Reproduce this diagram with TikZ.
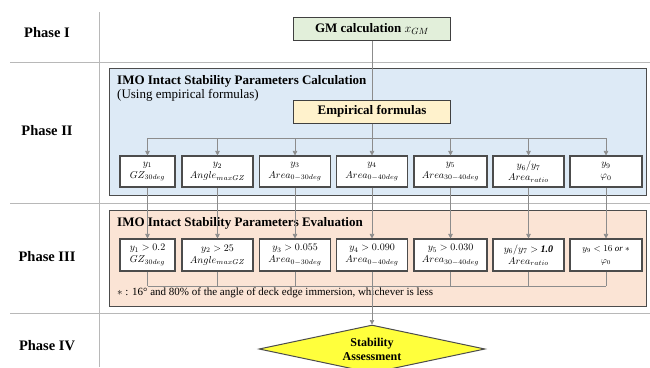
\documentclass[tikz,border=0pt]{standalone}
\usepackage{fontspec}
\setmainfont{Liberation Serif}
\usepackage{amsmath}
\usepackage{xcolor}
\usetikzlibrary{shapes.geometric,arrows.meta}

\definecolor{gmgreen}{HTML}{E2EFDA}
\definecolor{calcblue}{HTML}{DDEAF6}
\definecolor{empyellow}{HTML}{FFF2CC}
\definecolor{evalrose}{HTML}{FBE4D5}
\definecolor{assessyellow}{HTML}{FFFF3C}

\begin{document}
\begin{tikzpicture}[x=1pt,y=-1pt,
  phase/.style={font=\fontsize{14.5}{16}\selectfont\bfseries},
  phaseline/.style={draw=black!28,line width=0.8pt},
  panel/.style={draw=black!70,line width=1.2pt,anchor=north west,inner sep=0pt},
  paneltitle/.style={anchor=north west,inner sep=0pt,font=\fontsize{13}{15}\selectfont\bfseries},
  param/.style={draw=black!70,line width=1.1pt,fill=white,minimum width=71pt,minimum height=31pt,inner sep=1pt,align=center,font=\fontsize{10}{12}\selectfont},
  link/.style={draw=black!45,line width=0.6pt},
  >={Triangle[length=4.5pt,width=4.5pt]}
]
\useasboundingbox (0,0) rectangle (650,367);

% phase grid
\draw[phaseline] (99,12) -- (99,367);
\draw[phaseline] (10,62) -- (650,62);
\draw[phaseline] (10,203) -- (650,203);
\draw[phaseline] (10,313) -- (650,313);

\node[phase] (ph1) at (47,33) {Phase I};
\node[phase] (ph2) at (47,131) {Phase II};
\node[phase] (ph3) at (47,257) {Phase III};
\node[phase] (ph4) at (47,346) {Phase IV};

% Phase I
\node[draw=black!75,line width=1pt,fill=gmgreen,minimum width=157pt,minimum height=23pt,font=\fontsize{13}{15}\selectfont\bfseries] (gm) at (372,28.5) {GM calculation $x_{GM}$};

% Phase II
\node[panel,fill=calcblue,minimum width=537pt,minimum height=127pt] (calc) at (109,68) {};
\node[paneltitle] (calctitle) at (117,75) {IMO Intact Stability Parameters Calculation};
\node[paneltitle,font=\fontsize{13}{15}\selectfont] (using) at (117,89) {(Using empirical formulas)};
\node[draw=black!75,line width=1pt,fill=empyellow,minimum width=157pt,minimum height=23pt,font=\fontsize{13}{15}\selectfont\bfseries] (emp) at (372,111.5) {Empirical formulas};

\node[param,minimum width=55pt] (a1) at (147.5,171.5) {$y_1$\\$GZ_{30deg}$};
\node[param] (a2) at (217.5,171.5) {$y_2$\\$Angle_{maxGZ}$};
\node[param] (a3) at (295,171.5) {$y_3$\\$Area_{0-30deg}$};
\node[param] (a4) at (372,171.5) {$y_4$\\$Area_{0-40deg}$};
\node[param,minimum width=73pt] (a5) at (450.5,171.5) {$y_5$\\$Area_{30-40deg}$};
\node[param] (a6) at (528.5,171.5) {$y_6/y_7$\\$Area_{ratio}$};
\node[param,minimum width=72pt] (a9) at (606,171.5) {$y_9$\\$\varphi_0$};

% Phase III
\node[panel,fill=evalrose,minimum width=537pt,minimum height=96pt] (eval) at (109,210) {};
\node[paneltitle] (evaltitle) at (117,217) {IMO Intact Stability Parameters Evaluation};

\node[param,minimum width=55pt,minimum height=32pt] (b1) at (147.5,255) {$y_1 > 0.2$\\$GZ_{30deg}$};
\node[param,minimum height=32pt] (b2) at (217.5,255) {$y_2 > 25$\\$Angle_{maxGZ}$};
\node[param,minimum height=32pt] (b3) at (295,255) {$y_3 > 0.055$\\$Area_{0-30deg}$};
\node[param,minimum height=32pt] (b4) at (372,255) {$y_4 > 0.090$\\$Area_{0-40deg}$};
\node[param,minimum width=73pt,minimum height=32pt] (b5) at (450.5,255) {$y_5 > 0.030$\\$Area_{30-40deg}$};
\node[param,minimum height=32pt] (b6) at (528.5,255) {$y_6/y_7 >$ \textbf{\textit{1.0}}\\$Area_{ratio}$};
\node[param,minimum width=72pt,minimum height=32pt,font=\fontsize{9}{12}\selectfont] (b9) at (606,255) {$y_9 < 16$ \textit{or} $*$\\$\varphi_0$};

\node[anchor=west,inner sep=0pt,font=\fontsize{11}{13}\selectfont] (note) at (117,293) {$*$ : 16° and 80\% of the angle of deck edge immersion, whichever is less};

% Phase IV
\node[diamond,aspect=4.7,draw=black!70,line width=1pt,fill=assessyellow,minimum width=226pt,minimum height=48pt,inner sep=0pt,align=center,font=\fontsize{12}{14}\selectfont\bfseries] (sa) at (372,349) {Stability\\Assessment};

% connectors
\coordinate (split) at (372,138);
\coordinate (merge) at (372,286);

\draw[link] (gm) -- (emp);
\draw[link] (emp) -- (split);
\draw[link] (a1.north |- split) -- (a9.north |- split);
\draw[link,->] (a1.north |- split) -- (a1);
\draw[link,->] (a2.north |- split) -- (a2);
\draw[link,->] (a3.north |- split) -- (a3);
\draw[link,->] (split) -- (a4);
\draw[link,->] (a5.north |- split) -- (a5);
\draw[link,->] (a6.north |- split) -- (a6);
\draw[link,->] (a9.north |- split) -- (a9);

\draw[link,->] (a1) -- (b1);
\draw[link,->] (a2) -- (b2);
\draw[link,->] (a3) -- (b3);
\draw[link,->] (a4) -- (b4);
\draw[link,->] (a5) -- (b5);
\draw[link,->] (a6) -- (b6);
\draw[link,->] (a9) -- (b9);

\draw[link] (b1) -- (b1.south |- merge);
\draw[link] (b2) -- (b2.south |- merge);
\draw[link] (b3) -- (b3.south |- merge);
\draw[link] (b5) -- (b5.south |- merge);
\draw[link] (b6) -- (b6.south |- merge);
\draw[link] (b9) -- (b9.south |- merge);
\draw[link] (b1.south |- merge) -- (b9.south |- merge);
\draw[link,->] (b4) -- (sa);
\end{tikzpicture}
\end{document}
